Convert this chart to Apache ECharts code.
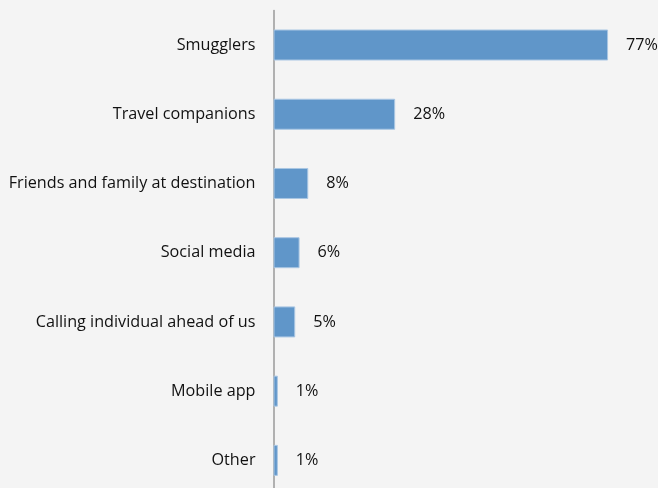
<!DOCTYPE html>
<html><head><meta charset="utf-8">
<script src="https://cdn.jsdelivr.net/npm/echarts@6/dist/echarts.min.js"></script>
<style>html,body{margin:0;padding:0;background:#f4f4f4}#c{width:658px;height:488px}</style>
</head><body><div id="c"></div>
<script>
const categories = ["Smugglers","Travel companions","Friends and family at destination","Social media","Calling individual ahead of us","Mobile app","Other"];
const values = [77,28,8,6,5,1,1];
const chart = echarts.init(document.getElementById('c'));
chart.setOption({
  backgroundColor:'#f4f4f4',
  animation:false,
  grid:{left:273.5,right:36.9,top:10.4,bottom:-7,containLabel:false,outerBoundsMode:'none'},
  xAxis:{type:'value',min:0,max:80,show:false},
  yAxis:{type:'category',inverse:true,data:categories,
    axisLine:{lineStyle:{color:'#9a9a9a',width:1.5}},
    axisTick:{show:false},
    axisLabel:{color:'#111111',fontSize:16.2,fontFamily:'Open Sans',margin:18,padding:[3,0,0,0]}},
  series:[{type:'bar',data:values,barWidth:31,
    itemStyle:{color:'#6096c9',borderColor:'#a9c6e3',borderWidth:1},
    label:{show:true,position:'right',distance:18,formatter:'{c}%',color:'#111111',fontSize:16.2,fontFamily:'Open Sans',padding:[3,0,0,0]}}]
});
</script></body></html>
